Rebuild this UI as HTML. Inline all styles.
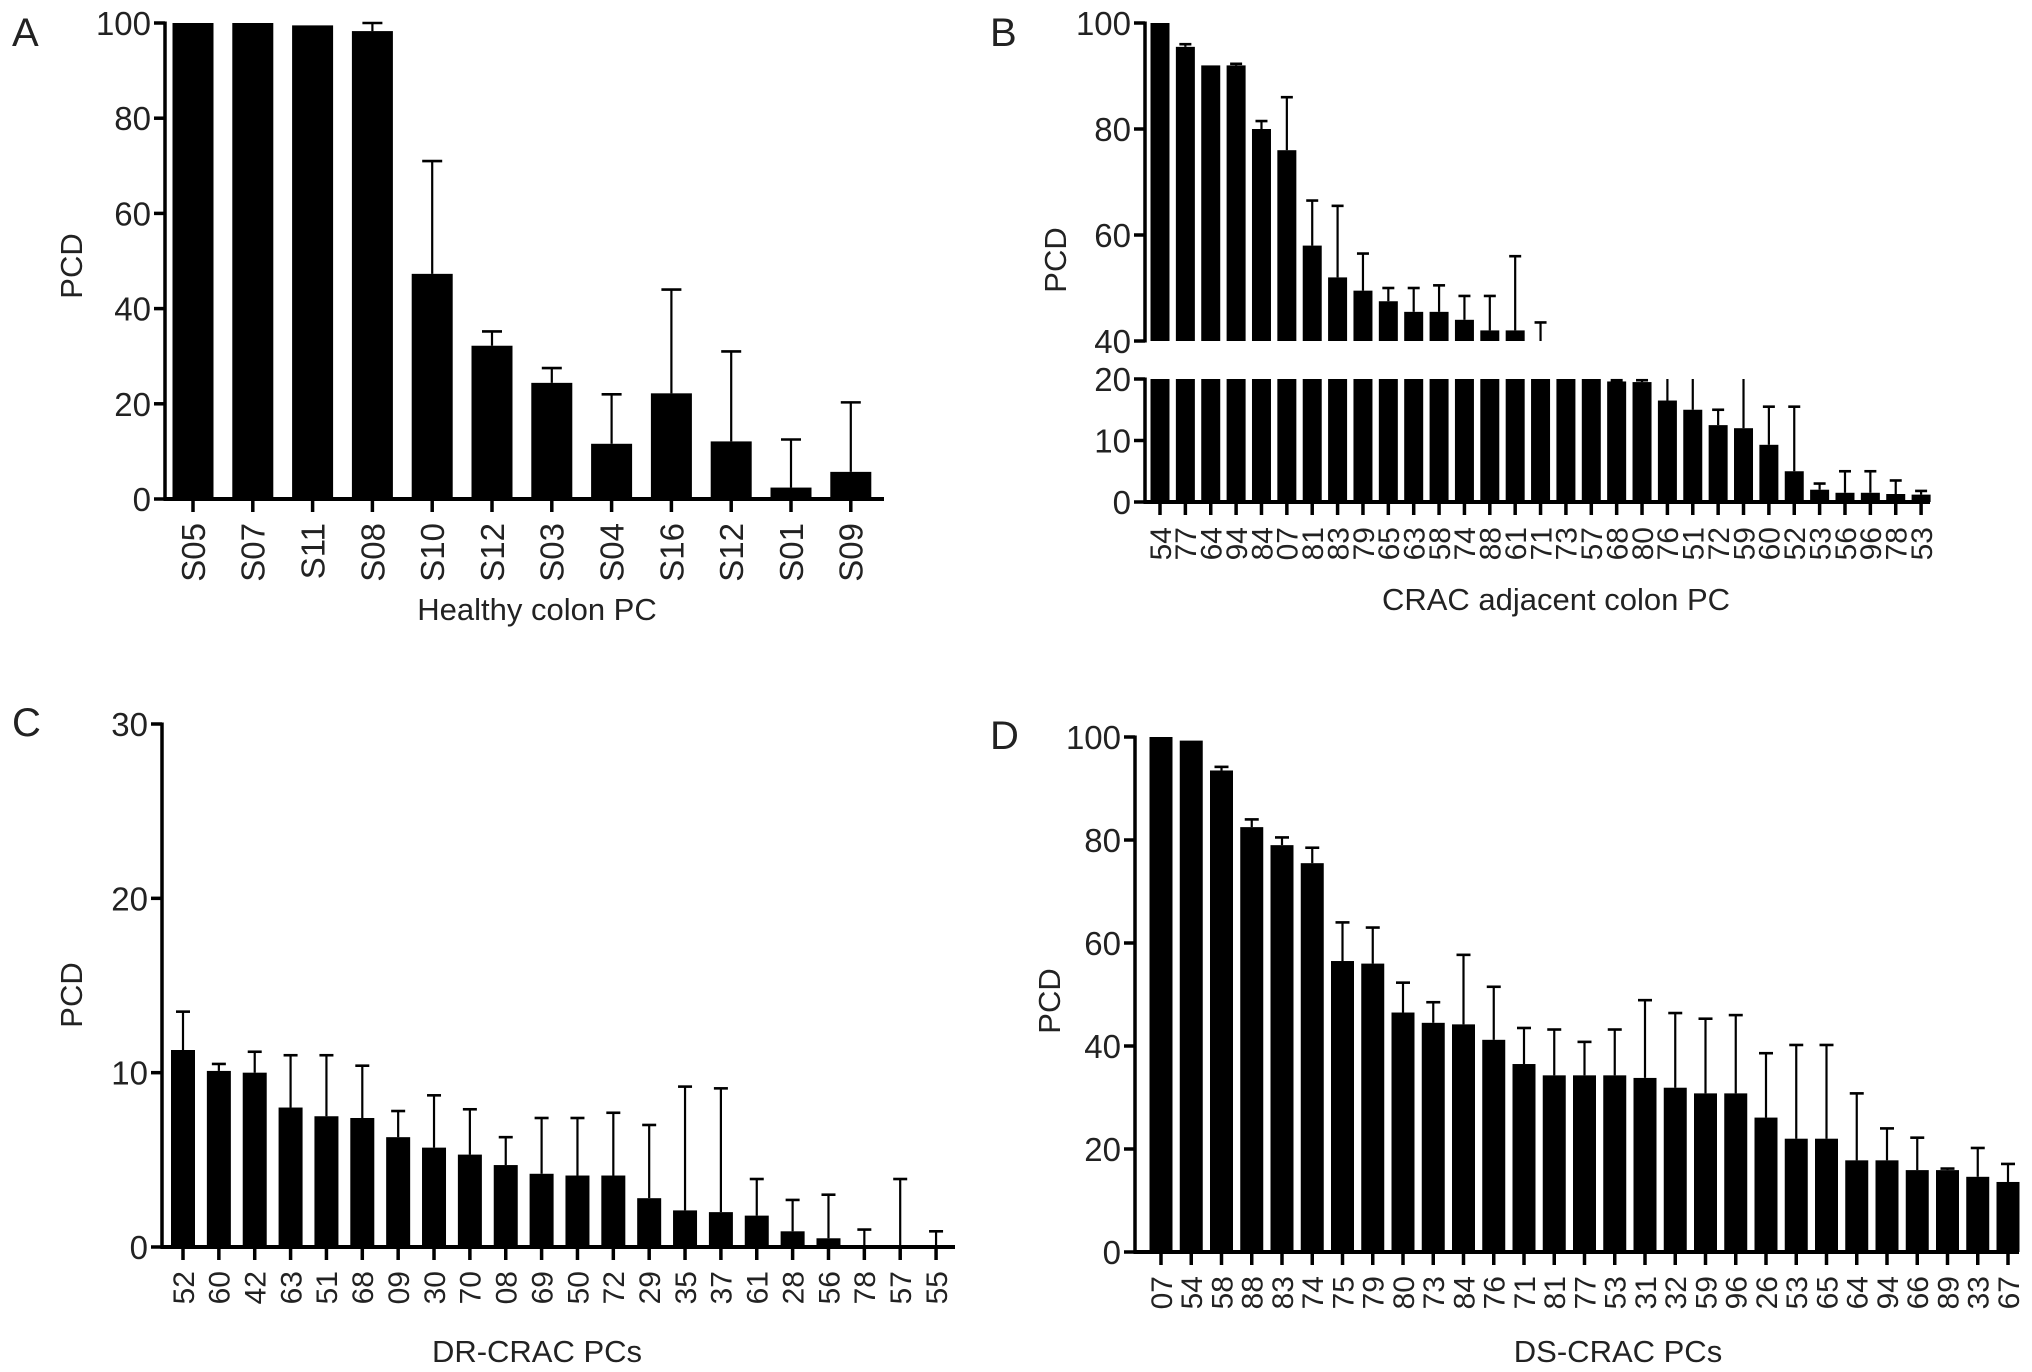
<!DOCTYPE html>
<html><head><meta charset="utf-8"><style>
html,body{margin:0;padding:0;background:#fff;}
svg{display:block;font-family:"Liberation Sans",sans-serif;}
</style></head><body>
<svg id="fig" width="2032" height="1372" viewBox="0 0 2032 1372" xmlns="http://www.w3.org/2000/svg">
<g id="root"></g>
</svg>
<script>
// Panel A data
const aCategories = ["S05","S07","S11","S08","S10","S12","S03","S04","S16","S12","S01","S09"];
const aValues = [100,100,99.5,98.3,47.3,32.2,24.4,11.6,22.2,12.1,2.4,5.7];
const aErrTop = [100,100,99.5,100,71,35.2,27.5,22,44,31,12.5,20.3];
const aTicks = [0,20,40,60,80,100];
// Panel B data
const bCategories = ["54","77","64","94","84","07","81","83","79","65","63","58","74","88","61","71","73","57","68","80","76","51","72","59","60","52","53","56","96","78","53"];
const bValues = [100,95.5,92,92,80,76,58,52,49.5,47.5,45.5,45.5,44,42,42,38,35,30,19.6,19.5,16.5,15,12.5,12,9.3,5,2,1.5,1.5,1.3,1.2];
const bErrTop = [100,96,92,92.3,81.5,86,66.5,65.5,56.5,50,50,50.5,48.5,48.5,56,43.5,35,30,19.8,19.8,25,25,15,25,15.5,15.5,3,5,5,3.5,1.8];
const bTicksUpper = [40,60,80,100];
const bTicksLower = [0,10,20];
// Panel C data
const cCategories = ["52","60","42","63","51","68","09","30","70","08","69","50","72","29","35","37","61","28","56","78","57","55"];
const cValues = [11.3,10.1,10,8,7.5,7.4,6.3,5.7,5.3,4.7,4.2,4.1,4.1,2.8,2.1,2,1.8,0.9,0.5,0.1,0,0];
const cErrTop = [13.5,10.5,11.2,11,11,10.4,7.8,8.7,7.9,6.3,7.4,7.4,7.7,7,9.2,9.1,3.9,2.7,3,1,3.9,0.9];
const cTicks = [0,10,20,30];
// Panel D data
const dCategories = ["07","54","58","88","83","74","75","79","80","73","84","76","71","81","77","53","31","32","59","96","26","53","65","64","94","66","89","33","67"];
const dValues = [100,99.3,93.5,82.5,79,75.5,56.5,56,46.5,44.5,44.2,41.2,36.5,34.3,34.3,34.3,33.8,31.9,30.8,30.8,26.1,22,22,17.8,17.8,15.9,15.9,14.6,13.6];
const dErrTop = [100,99.3,94.2,84,80.5,78.5,64,63,52.3,48.5,57.7,51.5,43.5,43.2,40.8,43.2,48.9,46.4,45.3,46,38.6,40.2,40.2,30.8,24,22.2,16.2,20.2,17.1];
const dTicks = [0,20,40,60,80,100];

const NS="http://www.w3.org/2000/svg";
const root=document.getElementById('root');
function mk(tag,attrs,parent){const e=document.createElementNS(NS,tag);for(const k in attrs)e.setAttribute(k,attrs[k]);(parent||root).appendChild(e);return e;}
function txt(s,attrs,parent){const e=mk('text',attrs,parent);e.textContent=s;return e;}

function panel(cfg){
  const g=mk('g',{});
  
  
  const n=cfg.cats.length;
  const xAt=i=>cfg.x0+i*cfg.step;
  const segs=cfg.segs;
  const yFor=(seg,v)=>seg.yLo+(v-seg.lo)/(seg.hi-seg.lo)*(seg.yHi-seg.yLo);
  for(const seg of segs){
    for(let i=0;i<n;i++){
      const v=cfg.vals[i];
      if(v>seg.lo){
        const vt=Math.min(v,seg.hi);
        const yTop=yFor(seg,vt);
        const r=mk('rect',{x:xAt(i)-cfg.bw/2,y:yTop,width:cfg.bw,height:Math.max(0,seg.yLo-yTop),fill:'#000'},g);
        
        
      }
      const e=cfg.err[i];
      const a=Math.max(v,seg.lo), b=Math.min(e,seg.hi);
      if(e>v && a<b){
        const y1=yFor(seg,a);
        const y2=yFor(seg,b);
        const l=mk('line',{x1:xAt(i),x2:xAt(i),y1:y1,y2:y2,stroke:'#000','stroke-width':2.2},g);
        
        
        if(e<=seg.hi){
          mk('line',{x1:xAt(i)-cfg.cap/2,x2:xAt(i)+cfg.cap/2,y1:y2,y2:y2,stroke:'#000','stroke-width':2.6},g);
        }
      }
    }
    const ax=mk('line',{x1:cfg.ax,x2:cfg.ax,y1:seg.yLo+1.5,y2:seg.yHi-1.5,stroke:'#000','stroke-width':3.5},g);
    
    
    for(const t of seg.ticks){
      const y=yFor(seg,t);
      mk('line',{x1:cfg.ax-11,x2:cfg.ax,y1:y,y2:y,stroke:'#000','stroke-width':3.5},g);
      const tl=txt(String(t),{x:cfg.ax-14,y:y+12,'font-size':33,'text-anchor':'end',fill:'#222'},g);
      
      
    }
  }
  const base=segs[0].yLo;
  const xa=mk('line',{x1:cfg.ax-1.5,x2:cfg.xEnd,y1:base,y2:base,stroke:'#000','stroke-width':4},g);
  
  
  for(let i=0;i<n;i++){
    mk('line',{x1:xAt(i),x2:xAt(i),y1:base,y2:base+13,stroke:'#000','stroke-width':3.5},g);
    const ty=base+cfg.lblOff;
    const tl=txt(cfg.cats[i],{x:xAt(i)+cfg.lblFs*0.36,y:ty,'font-size':cfg.lblFs,'text-anchor':'end',fill:'#222',transform:`rotate(-90 ${xAt(i)+cfg.lblFs*0.36} ${ty})`},g);
    
    
  }
  const xt=txt(cfg.xTitle,{x:cfg.xtX,y:cfg.xtY,'font-size':31,'text-anchor':'middle',fill:'#222'},g);
  
  
  const yt=txt('PCD',{x:cfg.ytX,y:cfg.ytY,'font-size':31,'text-anchor':'middle',fill:'#222',transform:`rotate(-90 ${cfg.ytX} ${cfg.ytY})`},g);
  
  
  const pl=txt(cfg.letter,{x:cfg.lx,y:cfg.ly,'font-size':40,fill:'#222'},g);
  
  
}

panel({name:'panel-a',cats:aCategories,vals:aValues,err:aErrTop,x0:193,step:59.8,bw:41,cap:20,ax:165,xEnd:884,
  segs:[{lo:0,hi:100,yLo:499,yHi:23,ticks:aTicks}],lblOff:24,lblFs:33,
  xTitle:'Healthy colon PC',xtX:537,xtY:620,ytX:82,ytY:266,letter:'A',lx:12,ly:46});
panel({name:'panel-b',cats:bCategories,vals:bValues,err:bErrTop,x0:1160,step:25.37,bw:19,cap:12,ax:1145,xEnd:1930,
  segs:[{lo:0,hi:20,yLo:502,yHi:379,ticks:bTicksLower},{lo:40,hi:100,yLo:341,yHi:23,ticks:bTicksUpper}],lblOff:25,lblFs:30,
  xTitle:'CRAC adjacent colon PC',xtX:1556,xtY:610,ytX:1066,ytY:260,letter:'B',lx:990,ly:46});
panel({name:'panel-c',cats:cCategories,vals:cValues,err:cErrTop,x0:183,step:35.86,bw:24,cap:14,ax:162,xEnd:955,
  segs:[{lo:0,hi:30,yLo:1247,yHi:724,ticks:cTicks}],lblOff:24,lblFs:30,
  xTitle:'DR-CRAC PCs',xtX:537,xtY:1362,ytX:82,ytY:995,letter:'C',lx:12,ly:736});
panel({name:'panel-d',cats:dCategories,vals:dValues,err:dErrTop,x0:1161,step:30.25,bw:23,cap:14,ax:1135,xEnd:2019,
  segs:[{lo:0,hi:100,yLo:1252,yHi:737,ticks:dTicks}],lblOff:24,lblFs:30,
  xTitle:'DS-CRAC PCs',xtX:1618,xtY:1362,ytX:1060,ytY:1001,letter:'D',lx:990,ly:749});
</script>
</body></html>
